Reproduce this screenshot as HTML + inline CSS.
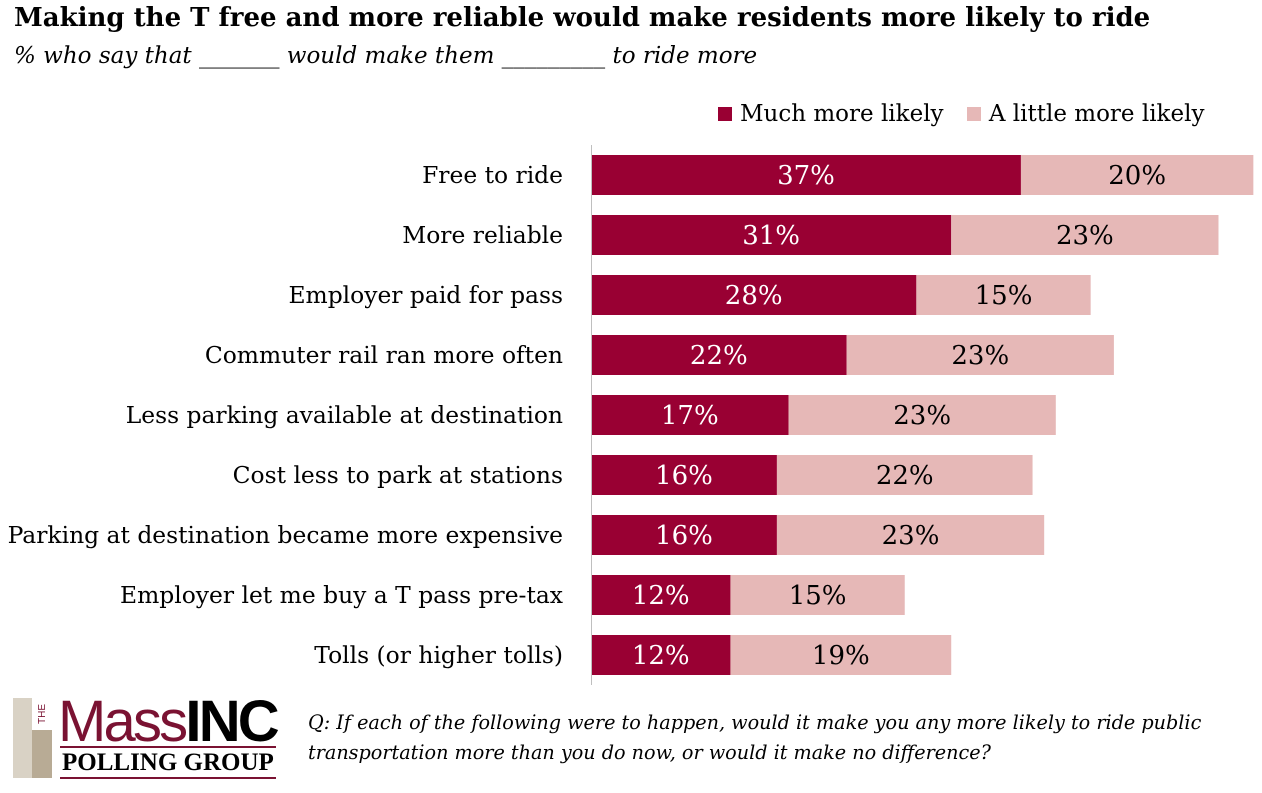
<!DOCTYPE html>
<html><head><meta charset="utf-8"><style>
body{margin:0;background:#fff;width:1262px;height:793px;overflow:hidden;font-family:"DejaVu Serif",serif;position:relative}
.t{position:absolute;white-space:nowrap}
</style></head><body>
<div class="t" style="left:14px;top:3px;font-size:26px;font-weight:bold;letter-spacing:0px;">Making the T free and more reliable would make residents more likely to ride</div>
<div class="t" style="left:14px;top:43px;font-size:23px;font-style:italic;">% who say that _______ would make them _________ to ride more</div>
<div class="t" style="left:718px;top:101px;font-size:23px;">
<span><span style="display:inline-block;width:14px;height:14px;background:#990033;margin-right:8px;"></span>Much more likely</span>
<span style="margin-left:16px;"><span style="display:inline-block;width:14px;height:14px;background:#e6b8b7;margin-right:8px;"></span>A little more likely</span>
</div>
<svg id="chart" width="1262" height="793" style="position:absolute;left:0;top:0"></svg>
<div>
<div style="position:absolute;left:13px;top:698px;width:19px;height:80px;background:#d9d2c5"></div>
<div style="position:absolute;left:32px;top:730px;width:20px;height:48px;background:#b8ab95"></div>
<div class="t" style="left:37px;top:724px;font-size:10px;color:#7a1232;transform:rotate(-90deg);transform-origin:0 0;font-family:'Liberation Sans',sans-serif">THE</div>
<div class="t" style="left:58px;top:688px;font-size:58px;color:#7a1232;font-family:'Liberation Sans',sans-serif;letter-spacing:-2.8px;">Mass<b style="color:#000">INC</b></div>
<div style="position:absolute;left:60px;top:746px;width:216px;height:2px;background:#7a1232"></div>
<div class="t" style="left:62px;top:749px;font-size:25px;font-weight:bold;font-family:'Liberation Serif',serif;">POLLING GROUP</div>
<div style="position:absolute;left:60px;top:777px;width:216px;height:2px;background:#7a1232"></div>
</div>
<div class="t" style="left:308px;top:708px;font-size:19.2px;font-style:italic;line-height:30px;">Q: If each of the following were to happen, would it make you any more likely to ride public<br>transportation more than you do now, or would it make no difference?</div>
<script>
const categories=["Free to ride","More reliable","Employer paid for pass","Commuter rail ran more often","Less parking available at destination","Cost less to park at stations","Parking at destination became more expensive","Employer let me buy a T pass pre-tax","Tolls (or higher tolls)"];
const muchMore=[37,31,28,22,17,16,16,12,12];
const littleMore=[20,23,15,23,23,22,23,15,19];
const NS="http://www.w3.org/2000/svg";
const svg=document.getElementById('chart');
const x0=591,scale=11.62,y0=155,step=60,bh=40;
const xs=v=>x0+v*scale;
const ys=i=>y0+i*step;
function mk(tag,attrs){const e=document.createElementNS(NS,tag);for(const k in attrs)e.setAttribute(k,attrs[k]);svg.appendChild(e);return e;}
categories.forEach((c,i)=>{
 const y=ys(i);
 const lab=mk('text',{x:563,y:y+bh/2+8,'text-anchor':'end','font-size':23.4,'font-family':'DejaVu Serif, serif'});
 lab.textContent=c;
 
 
 const r1=mk('rect',{x:xs(0),y:y,width:xs(muchMore[i])-xs(0),height:bh,fill:'#990033'});
 
 
 const r2=mk('rect',{x:xs(muchMore[i]),y:y,width:xs(muchMore[i]+littleMore[i])-xs(muchMore[i]),height:bh,fill:'#e6b8b7'});
 
 
 const t1=mk('text',{x:(xs(0)+xs(muchMore[i]))/2,y:y+bh/2+9,'text-anchor':'middle','font-size':26,fill:'#fff','font-family':'DejaVu Serif, serif'});
 t1.textContent=muchMore[i]+'%';
 
 
 const t2=mk('text',{x:(xs(muchMore[i])+xs(muchMore[i]+littleMore[i]))/2,y:y+bh/2+9,'text-anchor':'middle','font-size':26,fill:'#000','font-family':'DejaVu Serif, serif'});
 t2.textContent=littleMore[i]+'%';
 
 
});
const ax=mk('line',{x1:x0+0.5,x2:x0+0.5,y1:145,y2:685,stroke:'#bfbfbf','stroke-width':1});


</script>
</body></html>
